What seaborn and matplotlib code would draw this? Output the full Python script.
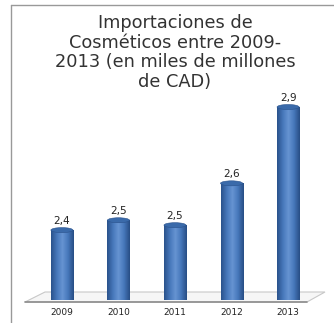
import numpy as np
import pandas as pd
import matplotlib
matplotlib.use("Agg")
import matplotlib.pyplot as plt
import seaborn as sns
from matplotlib.patches import Ellipse, Polygon
from matplotlib.lines import Line2D
from matplotlib.colors import LinearSegmentedColormap

# ---- data ----
years = ["2009", "2010", "2011", "2012", "2013"]
values = [2.42, 2.46, 2.44, 2.61, 2.92]
value_labels = ["2,4", "2,5", "2,5", "2,6", "2,9"]
title_lines = ["Importaciones de", "Cosméticos entre 2009-",
               "2013 (en miles de millones", "de CAD)"]

df = pd.DataFrame({"year": years, "value": values})

sns.set_theme(style="white")
plt.rcParams["font.family"] = ["DejaVu Sans"]

fig = plt.figure(figsize=(3.34, 3.23), dpi=100)
ax = fig.add_axes([28 / 334, 23 / 323, 294 / 334, 240 / 323])

sns.barplot(data=df, x="year", y="value", ax=ax, color="#4375B8",
            width=0.39, saturation=1, edgecolor="none")

YMIN, YMAX = 2.136, 3.111
ax.set_xlim(-0.6, 4.6)
ax.set_ylim(YMIN, YMAX)

# cylinder shading
cmap = LinearSegmentedColormap.from_list(
    "cyl", ["#2A528C", "#4677BA", "#6694D2", "#4677BA", "#284E85"])
grad = np.linspace(0, 1, 64).reshape(1, -1)
pxunit = (YMAX - YMIN) / 240.0
for p, lab in zip(ax.patches, value_labels):
    x0, y0 = p.get_x(), p.get_y()
    w, h = p.get_width(), p.get_height()
    im = ax.imshow(grad, cmap=cmap, aspect="auto",
                   extent=(x0, x0 + w, YMIN, y0 + h), zorder=2)
    im.set_clip_path(p)
    p.set_facecolor("none")
    top = y0 + h
    cap = Ellipse((x0 + w / 2, top), w, 5 * pxunit, facecolor="#3A6AAA",
                  edgecolor="#2A528C", lw=0.4, zorder=3)
    ax.add_patch(cap)
    ax.text(x0 + w / 2, top + 4 * pxunit, lab, ha="center", va="bottom",
            fontsize=7.5, color="#222222", zorder=4)

ax.set_xlabel("")
ax.set_ylabel("")
ax.set_yticks([])
ax.tick_params(axis="x", length=0, labelsize=6.5, pad=6, colors="#222222")
for s in ax.spines.values():
    s.set_visible(False)

# floor (3D base)
pts = [[25, 302], [307, 302], [325, 292], [45, 292]]
floor = Polygon([[x / 334, 1 - y / 323] for x, y in pts],
                closed=True, transform=fig.transFigure,
                facecolor="#F6F6F6", edgecolor="#C8C8C8", lw=0.8, zorder=0)
fig.add_artist(floor)
ax.set_zorder(1)
ax.patch.set_alpha(0)
fig.add_artist(Line2D([25 / 334, 307 / 334], [1 - 302 / 323, 1 - 302 / 323],
                      transform=fig.transFigure, color="#8C8C8C", lw=1.2))

# outer frame (left and top)
fig.add_artist(Line2D([11 / 334, 11 / 334], [0, 1 - 5 / 323],
                      transform=fig.transFigure, color="#999999", lw=1.0))
fig.add_artist(Line2D([11 / 334, 1], [1 - 5 / 323, 1 - 5 / 323],
                      transform=fig.transFigure, color="#999999", lw=1.0))

for i, line in enumerate(title_lines):
    fig.text(175 / 334, 1 - (23 + 19.7 * i) / 323, line, ha="center",
             va="center", fontsize=12.8, color="#333333")

fig.savefig("out.png", dpi=100)
